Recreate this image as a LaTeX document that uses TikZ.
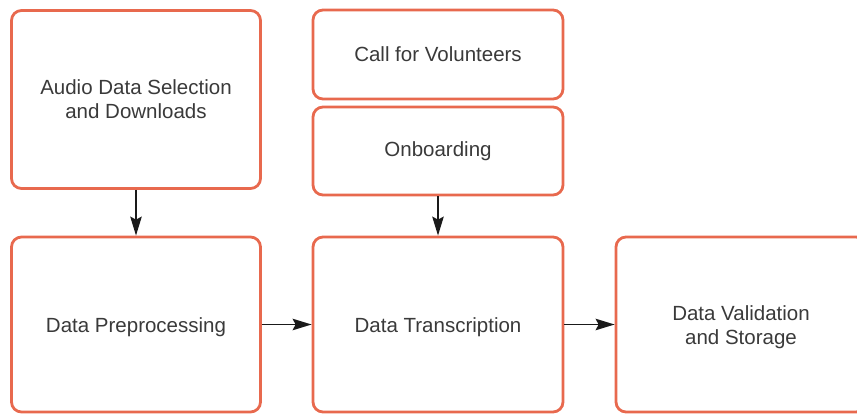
\documentclass[tikz,border=0pt]{standalone}
\usepackage{fontspec}
\setmainfont{Liberation Sans}
\usetikzlibrary{arrows.meta}
\definecolor{boxred}{HTML}{E8694E}
\definecolor{txt}{HTML}{3A3A3A}
\definecolor{arr}{HTML}{1A1A1A}
\begin{document}
\begin{tikzpicture}[x=1pt,y=-1pt,
  box/.style={draw=boxred, line width=2.8pt, rounded corners=10pt, fill=white,
    inner sep=0pt},
  lbl/.style={align=center, text=txt, inner sep=0pt,
    font=\fontsize{20.5}{24}\selectfont},
  conn/.style={draw=arr, line width=1.5pt, -{Stealth[length=19pt,width=11.5pt,inset=3pt]}}]
\useasboundingbox (0,0) rectangle (857,414);
\node[box, minimum width=249pt, minimum height=178pt,
  label={[lbl]center:Audio Data Selection\\and Downloads}] (audio) at (136,99.5) {};
\node[box, minimum width=250pt, minimum height=89pt,
  label={[lbl]center:Call for Volunteers}] (call) at (438,54.5) {};
\node[box, minimum width=250pt, minimum height=88pt,
  label={[lbl]center:Onboarding}] (onb) at (438,151) {};
\node[box, minimum width=249pt, minimum height=175pt,
  label={[lbl,yshift=-2.5pt]center:Data Preprocessing}] (pre) at (136,324.5) {};
\node[box, minimum width=250pt, minimum height=175pt,
  label={[lbl,yshift=-2.5pt]center:Data Transcription}] (tra) at (438,324.5) {};
\node[box, minimum width=250pt, minimum height=175pt,
  label={[lbl,yshift=-2.5pt]center:Data Validation\\and Storage}] (val) at (741,324.5) {};
\draw[conn] (audio) -- (pre);
\draw[conn] (onb) -- (tra);
\draw[conn] (pre) -- (tra);
\draw[conn] (tra) -- (val);
\end{tikzpicture}
\end{document}
